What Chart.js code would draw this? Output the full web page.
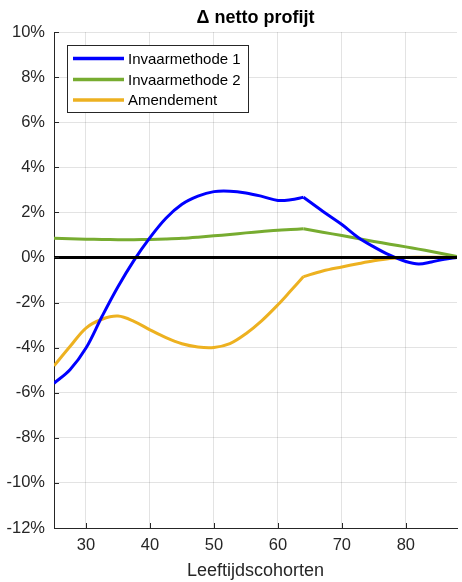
<!DOCTYPE html>
<html>
<head>
<meta charset="utf-8">
<script src="https://cdn.jsdelivr.net/npm/chart.js@4"></script>
<style>
html,body{margin:0;padding:0;background:#fff;}
#wrap{width:462px;height:582px;position:relative;}
</style>
</head>
<body>
<div id="wrap"><canvas id="c" width="462" height="582"></canvas></div>
<script>
const titleText = "\u0394 netto profijt";
const xTitle = "Leeftijdscohorten";
const seriesNames = ["Invaarmethode 1", "Invaarmethode 2", "Amendement"];
const ages = [25, 27.5, 30, 32.5, 35, 37.5, 40, 42.5, 45, 47.5, 50, 52.5, 55, 57.5, 60, 62, 64, 67, 70, 72.5, 75, 77.5, 80, 82, 84, 86, 88];
const invaar1 = [-5.58, -4.98, -4.02, -2.62, -1.3, -0.13, 0.88, 1.74, 2.36, 2.72, 2.92, 2.94, 2.86, 2.71, 2.53, 2.56, 2.67, 2.05, 1.46, 0.9, 0.47, 0.1, -0.18, -0.29, -0.2, -0.08, 0];
const invaar2 = [0.85, 0.83, 0.81, 0.8, 0.79, 0.79, 0.8, 0.82, 0.85, 0.9, 0.96, 1.02, 1.09, 1.15, 1.21, 1.24, 1.27, 1.12, 0.97, 0.84, 0.71, 0.59, 0.47, 0.37, 0.26, 0.15, 0.04];
const amendement = [-4.81, -3.95, -3.13, -2.74, -2.6, -2.83, -3.21, -3.56, -3.83, -3.97, -3.99, -3.82, -3.38, -2.8, -2.1, -1.48, -0.85, -0.6, -0.42, -0.28, -0.15, -0.05, 0, 0.01, 0.01, 0.01, 0];
const kinkAge = 64;
const yTicks = [-12, -10, -8, -6, -4, -2, 0, 2, 4, 6, 8, 10];
const xTicks = [30, 40, 50, 60, 70, 80];
const colors = ["#0000FF", "#77AC30", "#EDB120"];

const FONT = "'Liberation Sans', Arial, Helvetica, sans-serif";
const AXC = "#262626";

function pts(vals, part){
  return ages.map((a,i)=>({x:a, y:vals[i]}))
    .filter(p => part === 0 ? p.x <= kinkAge : p.x >= kinkAge);
}

const seriesVals = [invaar1, invaar2, amendement];
const datasets = [];
seriesVals.forEach((vals, i) => {
  [0, 1].forEach(part => datasets.push({
    label: seriesNames[i], data: pts(vals, part), borderColor: colors[i], seriesIndex: i
  }));
});

const extras = {
  id: 'extras',
  afterDatasetsDraw(chart){
    const ctx = chart.ctx, xs = chart.scales.x, ys = chart.scales.y, ca = chart.chartArea;
    ctx.save();
    ctx.strokeStyle = '#000'; ctx.lineWidth = 3;
    ctx.beginPath();
    ctx.moveTo(xs.getPixelForValue(xs.min), ys.getPixelForValue(0));
    ctx.lineTo(xs.getPixelForValue(xs.max), ys.getPixelForValue(0));
    ctx.stroke();
    ctx.strokeStyle = AXC; ctx.lineWidth = 1;
    ctx.beginPath();
    yTicks.forEach(v=>{ const y=Math.round(ys.getPixelForValue(v))+0.5; ctx.moveTo(ca.left, y); ctx.lineTo(ca.left+5, y); });
    xTicks.forEach(v=>{ const x=Math.round(xs.getPixelForValue(v))+0.5; ctx.moveTo(x, ca.bottom); ctx.lineTo(x, ca.bottom-5); });
    ctx.stroke();
    ctx.fillStyle = '#000';
    ctx.font = 'bold 18px ' + FONT;
    ctx.textAlign = 'center'; ctx.textBaseline = 'middle';
    ctx.fillText(titleText, (ca.left+ca.right)/2, 18);
    const bx=67.5, by=45.5, bw=181, bh=67;
    ctx.fillStyle='#fff'; ctx.fillRect(bx,by,bw,bh);
    ctx.strokeStyle=AXC; ctx.lineWidth=1; ctx.strokeRect(bx,by,bw,bh);
    ctx.font = '15px ' + FONT; ctx.textAlign='left'; ctx.textBaseline='middle';
    const rows=[58.5, 79.5, 100];
    seriesNames.forEach((name,i)=>{
      ctx.strokeStyle = colors[i]; ctx.lineWidth = 3.5;
      ctx.beginPath(); ctx.moveTo(73, rows[i]); ctx.lineTo(124, rows[i]); ctx.stroke();
      ctx.fillStyle = '#000';
      ctx.fillText(name, 128, rows[i]+1);
    });
    ctx.restore();
  }
};

new Chart(document.getElementById('c'), {
  type: 'line',
  data: { datasets },
  options: {
    responsive: false,
    animation: false,
    layout: {padding: {top: 32, right: 5, left: 0, bottom: 0}},
    elements: {
      line: {borderWidth: 3, tension: 0.35, fill: false, capBezierPoints: true},
      point: {radius: 0}
    },
    plugins: {legend: {display: false}, title: {display: false}, tooltip: {enabled: false}},
    scales: {
      x: {
        type: 'linear', min: 25, max: 88,
        afterFit(s){ s.height = 54; },
        ticks: {stepSize: 10, includeBounds: false, color: AXC, font: {family: FONT, size: 16.5}, padding: 8, maxRotation: 0},
        grid: {color: 'rgba(38,38,38,0.13)', drawTicks: false},
        border: {display: true, color: AXC, width: 1},
        title: {display: true, text: xTitle, color: AXC, font: {family: FONT, size: 18}, padding: {top: 0, bottom: 0}}
      },
      y: {
        min: -12, max: 10,
        afterFit(s){ s.width = 54; },
        ticks: {stepSize: 2, color: AXC, font: {family: FONT, size: 16.5}, padding: 9, callback: v => v + '%'},
        grid: {color: 'rgba(38,38,38,0.13)', drawTicks: false},
        border: {display: true, color: AXC, width: 1}
      }
    }
  },
  plugins: [extras]
});
</script>
</body>
</html>
